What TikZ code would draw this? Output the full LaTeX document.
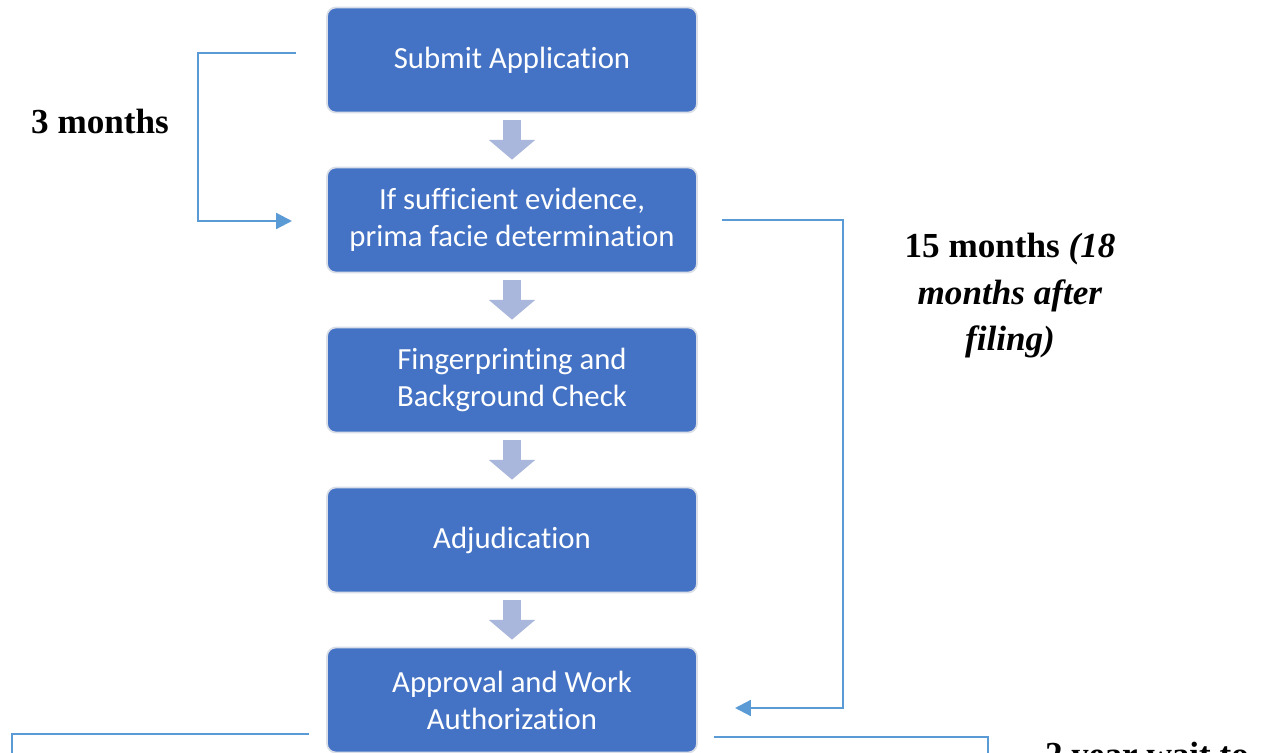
\documentclass[tikz,border=0pt]{standalone}
\usepackage{fontspec}
\setmainfont{Liberation Serif}
\newfontfamily\boxfont[Ligatures=NoCommon]{Carlito}
\usetikzlibrary{arrows.meta}
\definecolor{boxblue}{HTML}{4472C4}
\definecolor{flowarrow}{HTML}{A9B7DC}
\definecolor{linkblue}{HTML}{5B9BD5}
\definecolor{boxrim}{HTML}{D9DEE8}
\tikzset{
  stepbox/.style={rectangle, rounded corners=5pt, fill=boxblue, draw=boxrim, line width=1pt,
    minimum width=7.4cm, minimum height=2.1cm, align=center, text=white,
    font=\boxfont\fontsize{17.5}{21}\selectfont},
  flow/.style={draw=flowarrow, line width=10.2pt, line cap=butt,
    -{Triangle[length=11.3pt,width=26pt]}},
  link/.style={draw=linkblue, line width=1.3pt, line cap=rect},
  linkarrow/.style={link, -{Triangle[length=9pt,width=9pt]}},
  note/.style={font=\bfseries\fontsize{20}{26.6}\selectfont, align=center, text=black}
}
\begin{document}
\begin{tikzpicture}[x=0.02cm,y=-0.02cm]
\useasboundingbox (0,0) rectangle (1265,753);
\clip (0,0) rectangle (1265,753);
\node[stepbox] (b1) at (512,60) {Submit Application};
\node[stepbox] (b2) at (512,220) {If sufficient evidence,\\prima facie determination};
\node[stepbox] (b3) at (512,380) {Fingerprinting and\\Background Check};
\node[stepbox] (b4) at (512,540) {Adjudication};
\node[stepbox] (b5) at (512,700) {Approval and Work\\Authorization};
\foreach \a/\b in {b1/b2,b2/b3,b3/b4,b4/b5}
  \draw[flow] ([yshift=-0.14cm]\a.south) -- ([yshift=0.14cm]\b.north);
% left connector: 3 months
\coordinate (l1) at (295,53);
\coordinate (l2) at (292,221);
\draw[linkarrow] (l1) -| (198,137) |- (l2);
\node[note, anchor=base] (t3) at (100,134) {3 months};
% right connector: 15 months
\coordinate (r1) at (723,220);
\coordinate (r2) at (735,708);
\draw[linkarrow] (r1) -| (843,464) |- (r2);
\node[note, anchor=base] (t15a) at (1010,258) {15 months \textit{(18}};
\node[note, anchor=base] (t15b) at (1010,305) {\textit{months after}};
\node[note, anchor=base] (t15c) at (1010,351) {\textit{filing)}};
% bottom connectors
\coordinate (bl1) at (308,734);
\coordinate (bl2) at (12,780);
\draw[link] (bl1) -| (bl2);
\coordinate (br1) at (715,737);
\coordinate (br2) at (988,780);
\draw[link] (br1) -| (br2);
\node[note, anchor=base] (t2y) at (1147,766) {2 year wait to};
\end{tikzpicture}
\end{document}
